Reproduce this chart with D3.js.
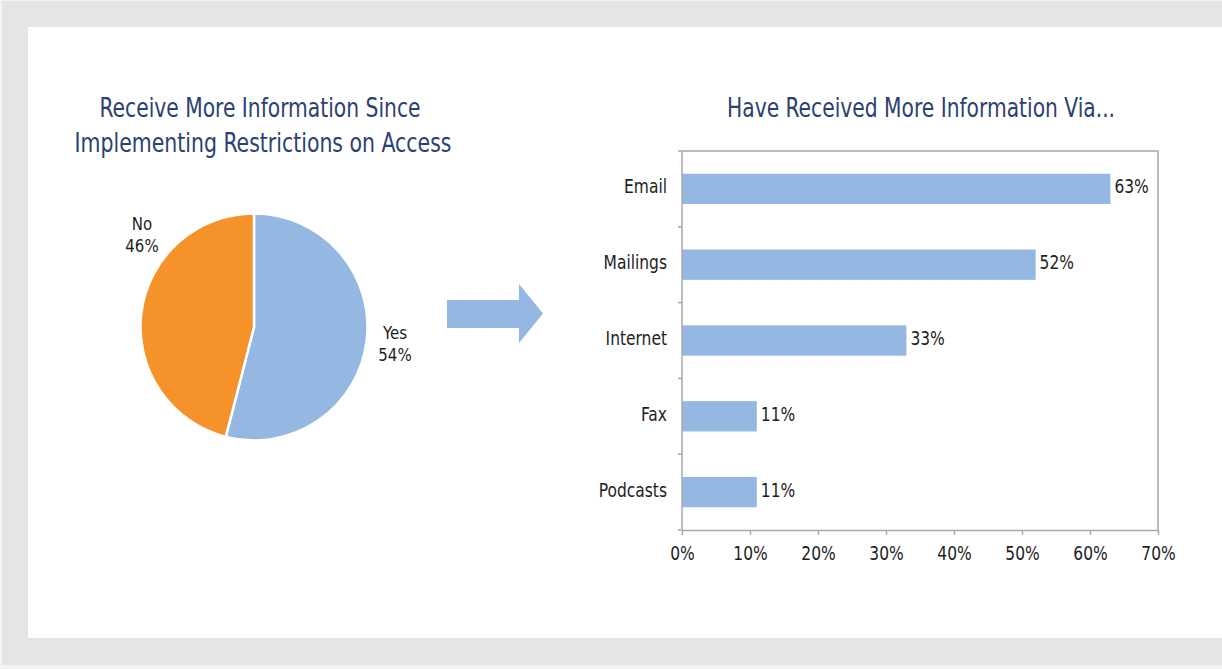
<!DOCTYPE html>
<html>
<head>
<meta charset="utf-8">
<script src="https://cdn.jsdelivr.net/npm/d3@7"></script>
<style>
  html, body { margin: 0; padding: 0; background: #f3f4f4; }
  svg { display: block; }
  text { font-family: "Liberation Sans Narrow", "DejaVu Sans Condensed", "Roboto Condensed", sans-serif; }
</style>
</head>
<body>
<svg id="chart" width="1222" height="669"></svg>
<script>
// ---- data ----
const pieTitle = ["Receive More Information Since", "Implementing Restrictions on Access"];
const pieLabels = ["Yes", "No"];
const pieValues = [54, 46];
const barTitle = "Have Received More Information Via...";
const barCategories = ["Email", "Mailings", "Internet", "Fax", "Podcasts"];
const barValues = [0.63, 0.52, 0.33, 0.11, 0.11];
const xTicks = [0, 0.1, 0.2, 0.3, 0.4, 0.5, 0.6, 0.7];

const colors = { Yes: "#94b8e1", No: "#f6922a" };
const titleColor = "#2b4170";
const textColor = "#1e1e1e";
const axisColor = "#a8a8a8";

// narrow the fallback font horizontally to mimic the condensed face
function squeeze(sel, f) {
  sel.each(function () {
    const w = this.getComputedTextLength();
    d3.select(this).attr("textLength", w * f).attr("lengthAdjust", "spacingAndGlyphs");
  });
}

const svg = d3.select("#chart");

// background frame
svg.append("rect").attr("x", 2).attr("y", 1).attr("width", 1220).attr("height", 664).attr("fill", "#e4e5e6");
svg.append("rect").attr("x", 28).attr("y", 27).attr("width", 1194).attr("height", 611).attr("fill", "#ffffff");

// ---- pie ----
const pieTitleG = svg.append("g");
pieTitleG.selectAll("text").data(pieTitle).join("text")
  .attr("x", (d, i) => i === 0 ? 260 : 263)
  .attr("y", (d, i) => 117 + i * 35)
  .attr("text-anchor", "middle")
  .attr("fill", titleColor)
  .attr("font-size", 26)
  .attr("textLength", (d, i) => i === 0 ? 321 : 377)
  .attr("lengthAdjust", "spacingAndGlyphs")
  .text(d => d);

const cx = 254, cy = 327, r = 113.5;
const pie = d3.pie().sort(null).value(d => d.value);
const arcs = pie(pieLabels.map((l, i) => ({ label: l, value: pieValues[i] })));
const arc = d3.arc().innerRadius(0).outerRadius(r);
const pg = svg.append("g").attr("transform", `translate(${cx},${cy})`);
pg.selectAll("path").data(arcs).join("path")
  .attr("d", arc)
  .attr("fill", d => colors[d.data.label])
  .attr("stroke", "#ffffff")
  .attr("stroke-width", 2.5)
  .attr("stroke-linejoin", "round");

const pieLabelPos = { Yes: [395, 339], No: [142, 230] };
arcs.forEach(d => {
  const [lx, ly] = pieLabelPos[d.data.label];
  const t1 = svg.append("text").attr("x", lx).attr("y", ly).attr("text-anchor", "middle")
    .attr("fill", textColor).attr("font-size", 18.5).text(d.data.label);
  const t2 = svg.append("text").attr("x", lx).attr("y", ly + 21.5).attr("text-anchor", "middle")
    .attr("fill", textColor).attr("font-size", 18.5).text(d.data.value + "%");
  squeeze(t1, 0.9);
  squeeze(t2, 0.9);
});

// ---- arrow ----
svg.append("path")
  .attr("d", "M447,300 L519,300 L519,284 L543,313.5 L519,343 L519,328 L447,328 Z")
  .attr("fill", "#94b8e1");

// ---- bar chart ----
const x = d3.scaleLinear().domain([0, 0.7]).range([682, 1158]);
const y = d3.scaleBand().domain(barCategories).range([151, 530]).paddingInner(0.6).paddingOuter(0.3);

svg.append("text")
  .attr("x", 921).attr("y", 117)
  .attr("text-anchor", "middle")
  .attr("fill", titleColor)
  .attr("font-size", 26)
  .attr("textLength", 388)
  .attr("lengthAdjust", "spacingAndGlyphs")
  .text(barTitle);

// plot border (top & right)
svg.append("path")
  .attr("d", `M${x(0)},${y.range()[0]} H${x(0.7)} V${y.range()[1]}`)
  .attr("fill", "none").attr("stroke", axisColor).attr("stroke-width", 1.5);

const bars = svg.append("g");
bars.selectAll("rect").data(barCategories).join("rect")
  .attr("x", x(0))
  .attr("y", d => y(d))
  .attr("width", (d, i) => x(barValues[i]) - x(0))
  .attr("height", y.bandwidth())
  .attr("fill", "#94b8e1");

const vals = bars.selectAll("text.val").data(barCategories).join("text")
  .attr("class", "val")
  .attr("x", (d, i) => x(barValues[i]) + 4)
  .attr("y", d => y(d) + y.bandwidth() / 2 + 4.5)
  .attr("fill", textColor)
  .attr("font-size", 20)
  .text((d, i) => Math.round(barValues[i] * 100) + "%");
squeeze(vals, 0.86);

// category labels
const cats = svg.selectAll("text.cat").data(barCategories).join("text")
  .attr("class", "cat")
  .attr("x", x(0) - 15)
  .attr("y", d => y(d) + y.bandwidth() / 2 + 4.5)
  .attr("text-anchor", "end")
  .attr("fill", textColor)
  .attr("font-size", 20)
  .text(d => d);
squeeze(cats, 0.86);

// y axis line + boundary ticks
const bounds = barCategories.map(c => y(c) + y.bandwidth() / 2 - y.step() / 2);
bounds.push(y.range()[1]);
const ya = svg.append("g");
ya.append("line").attr("x1", x(0)).attr("x2", x(0)).attr("y1", y.range()[0]).attr("y2", y.range()[1])
  .attr("stroke", axisColor).attr("stroke-width", 1.5);
ya.selectAll("line.tk").data(bounds).join("line").attr("class", "tk")
  .attr("x1", x(0) - 4).attr("x2", x(0)).attr("y1", d => d).attr("y2", d => d)
  .attr("stroke", axisColor).attr("stroke-width", 1.5);

// x axis
const xa = svg.append("g").attr("transform", `translate(0,${y.range()[1]})`)
  .call(d3.axisBottom(x).tickValues(xTicks).tickFormat(d3.format(".0%")).tickSize(5).tickSizeOuter(0));
xa.select(".domain").attr("stroke", axisColor).attr("stroke-width", 1.5);
xa.selectAll(".tick line").attr("stroke", axisColor).attr("stroke-width", 1.5);
const tl = xa.selectAll(".tick text")
  .attr("y", 0).attr("dy", 30)
  .attr("fill", textColor)
  .attr("font-size", 20)
  .attr("font-family", null);
squeeze(tl, 0.86);
</script>
</body>
</html>
